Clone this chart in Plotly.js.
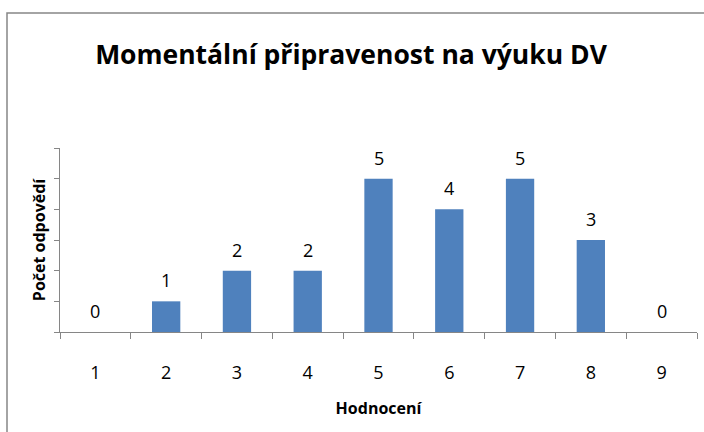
<!DOCTYPE html>
<html>
<head>
<meta charset="utf-8">
<script src="https://cdn.plot.ly/plotly-3.0.1.min.js"></script>
<style>html,body{margin:0;padding:0;background:#fff;}#chart{width:704px;height:432px;}</style>
</head>
<body>
<div id="chart"></div>
<script>
const categories = ["1","2","3","4","5","6","7","8","9"];
const counts = [0,1,2,2,5,4,5,3,0];
const chartTitle = "Momentální připravenost na výuku DV";
const xTitle = "Hodnocení";
const yTitle = "Počet odpovědí";

const font = "Open Sans, sans-serif";
const trace = {
  type: "bar",
  x: categories,
  y: counts,
  marker: {color: "#4F81BD"},
  hoverinfo: "none"
};

const labels = categories.map((c, i) => ({
  x: i, y: counts[i], xref: "x", yref: "y",
  text: String(counts[i]), showarrow: false,
  yanchor: "bottom", yshift: 7,
  font: {family: font, size: 18, color: "#000"}
}));

const axisColor = "#868686";
const layout = {
  width: 704, height: 432,
  margin: {l: 60, r: 7, t: 148, b: 100},
  paper_bgcolor: "#fff", plot_bgcolor: "#fff",
  showlegend: false,
  bargap: 0.6,
  title: {
    text: "<b>" + chartTitle + "</b>",
    font: {family: font, size: 26.5, color: "#000"},
    x: 351/704, xref: "container", xanchor: "center",
    y: 1 - 55/432, yref: "container", yanchor: "middle"
  },
  xaxis: {
    type: "category",
    range: [-0.5, 8.5],
    showline: true, linecolor: axisColor, linewidth: 1,
    ticks: "outside", tickson: "boundaries", ticklen: 6, tickcolor: axisColor,
    tickfont: {family: font, size: 18, color: "#000"},
    ticklabelstandoff: 24,
    showgrid: false, zeroline: false,
    title: {text: "<b>" + xTitle + "</b>", font: {family: font, size: 16, color: "#000"}, standoff: 20},
    automargin: false, fixedrange: true
  },
  yaxis: {
    range: [0, 6], dtick: 1,
    showline: true, linecolor: axisColor, linewidth: 1,
    ticks: "outside", ticklen: 5, tickcolor: axisColor,
    showticklabels: false, showgrid: false, zeroline: false,
    title: {text: "<b>" + yTitle + "</b>", font: {family: font, size: 16, color: "#000"}, standoff: 4},
    automargin: false, fixedrange: true
  },
  annotations: labels,
  shapes: [{
    type: "path", xref: "paper", yref: "paper",
    path: "M -0.0832 -0.6 L -0.0832 1.7337 L 1.2 1.7337",
    line: {color: axisColor, width: 1.5}
  }]
};

Plotly.newPlot("chart", [trace], layout, {displayModeBar: false, staticPlot: true});
</script>
</body>
</html>
